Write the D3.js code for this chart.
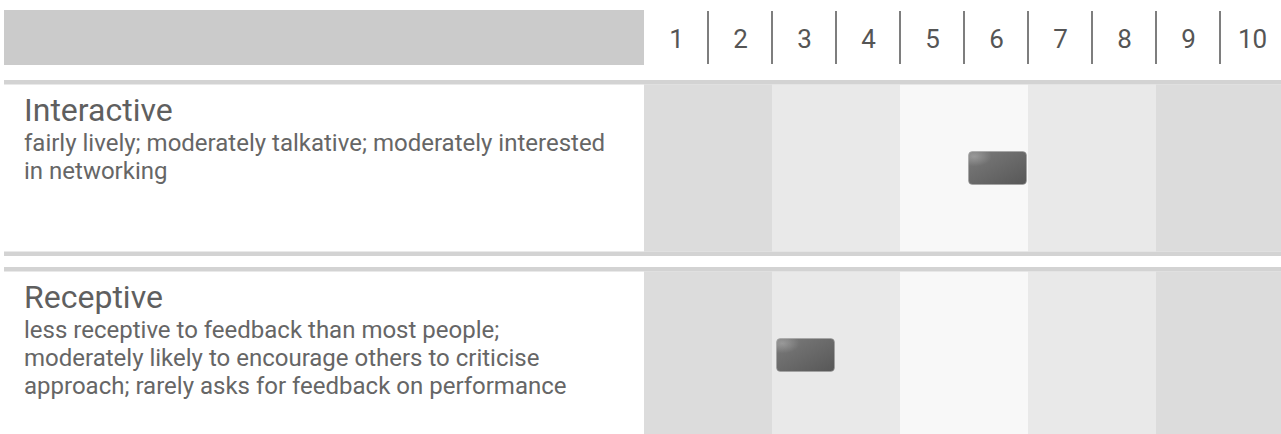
<!DOCTYPE html>
<html>
<head>
<meta charset="utf-8">
<script src="https://cdn.jsdelivr.net/npm/d3@7"></script>
<style>
  html, body { margin: 0; padding: 0; background: #fff; }
  svg { display: block; font-family: Roboto, "Open Sans", sans-serif; }
</style>
</head>
<body>
<svg id="chart" width="1281" height="434"></svg>
<script>
// ---- data ----
const scaleTicks = [1, 2, 3, 4, 5, 6, 7, 8, 9, 10];
const traits = ["Interactive", "Receptive"];
const descriptions = [
  ["fairly lively; moderately talkative; moderately interested", "in networking"],
  ["less receptive to feedback than most people;", "moderately likely to encourage others to criticise", "approach; rarely asks for feedback on performance"]
];
const scores = [6, 3];
const bandRanges = [[1, 2], [3, 4], [5, 6], [7, 8], [9, 10]];

// ---- layout ----
const W = 1281;
const svg = d3.select("#chart");
const x = d3.scaleLinear().domain([0.5, 10.5]).range([644, 1284]);
const bandFill = ["#dcdcdc", "#e9e9e9", "#f8f8f8", "#e9e9e9", "#dcdcdc"];

// gradients for marker
const defs = svg.append("defs");
const lg = defs.append("linearGradient").attr("id", "mk").attr("x1", "0").attr("y1", "0").attr("x2", "1").attr("y2", "1");
lg.append("stop").attr("offset", "0%").attr("stop-color", "#7c7c7c");
lg.append("stop").attr("offset", "100%").attr("stop-color", "#575757");
const rg = defs.append("radialGradient").attr("id", "mkhi").attr("cx", "0.1").attr("cy", "0.15").attr("r", "0.3");
rg.append("stop").attr("offset", "0%").attr("stop-color", "#ffffff").attr("stop-opacity", 0.25);
rg.append("stop").attr("offset", "100%").attr("stop-color", "#ffffff").attr("stop-opacity", 0);

// header
svg.append("rect").attr("x", 4).attr("y", 10).attr("width", x(0.5) - 4).attr("height", 55).attr("fill", "#cbcbcb");

const axis = d3.axisTop(x).tickValues(scaleTicks).tickSize(0).tickFormat(d3.format("d"));
const ag = svg.append("g").attr("transform", "translate(0,47.5)").call(axis);
ag.select(".domain").remove();
ag.selectAll("text")
  .attr("y", 0).attr("dy", 0)
  .style("font-size", "26px").style("font-family", "Roboto, sans-serif")
  .attr("fill", "#555");

svg.append("g").selectAll("line")
  .data(scaleTicks.slice(0, -1))
  .join("line")
  .attr("x1", d => x(d + 0.5)).attr("x2", d => x(d + 0.5))
  .attr("y1", 11).attr("y2", 64)
  .attr("stroke", "#5e5e5e").attr("stroke-width", 1.6);

// rows
const rowTop0 = 80, rowH = 187, sepH = 4.5, bandH = 167;
traits.forEach((t, i) => {
  const top = rowTop0 + i * rowH;
  const g = svg.append("g").attr("transform", `translate(0,${top})`);
  // bands
  g.selectAll("rect.band").data(bandRanges).join("rect").attr("class", "band")
    .attr("x", d => x(d[0] - 0.5)).attr("width", d => x(d[1] + 0.5) - x(d[0] - 0.5))
    .attr("y", sepH).attr("height", bandH)
    .attr("fill", (d, j) => bandFill[j]);
  // separators
  g.append("rect").attr("x", 4).attr("y", 0).attr("width", W - 4).attr("height", sepH).attr("fill", "#d3d3d3");
  g.append("rect").attr("x", 4).attr("y", sepH + bandH).attr("width", W - 4).attr("height", sepH).attr("fill", "#d3d3d3");
  // title
  g.append("text").attr("x", 24).attr("y", 41).text(t)
    .style("font-size", "32px").attr("fill", "#5f5f5f");
  g.append("g").selectAll("text").data(descriptions[i]).join("text")
    .attr("x", 24).attr("y", (d, k) => 70.5 + k * 28).text(d => d)
    .style("font-size", "24px").attr("fill", "#666");
  // marker
  const mw = 58, mh = 33, cy = sepH + bandH / 2;
  g.append("rect").attr("x", x(scores[i]) - mw / 2 + 1.5).attr("y", cy - mh / 2)
    .attr("width", mw).attr("height", mh).attr("rx", 4)
    .attr("fill", "url(#mk)").attr("stroke", "#a0a0a0").attr("stroke-width", 0.6);
  g.append("rect").attr("x", x(scores[i]) - mw / 2 + 1.5).attr("y", cy - mh / 2)
    .attr("width", mw).attr("height", mh).attr("rx", 4)
    .attr("fill", "url(#mkhi)");
});
</script>
</body>
</html>
